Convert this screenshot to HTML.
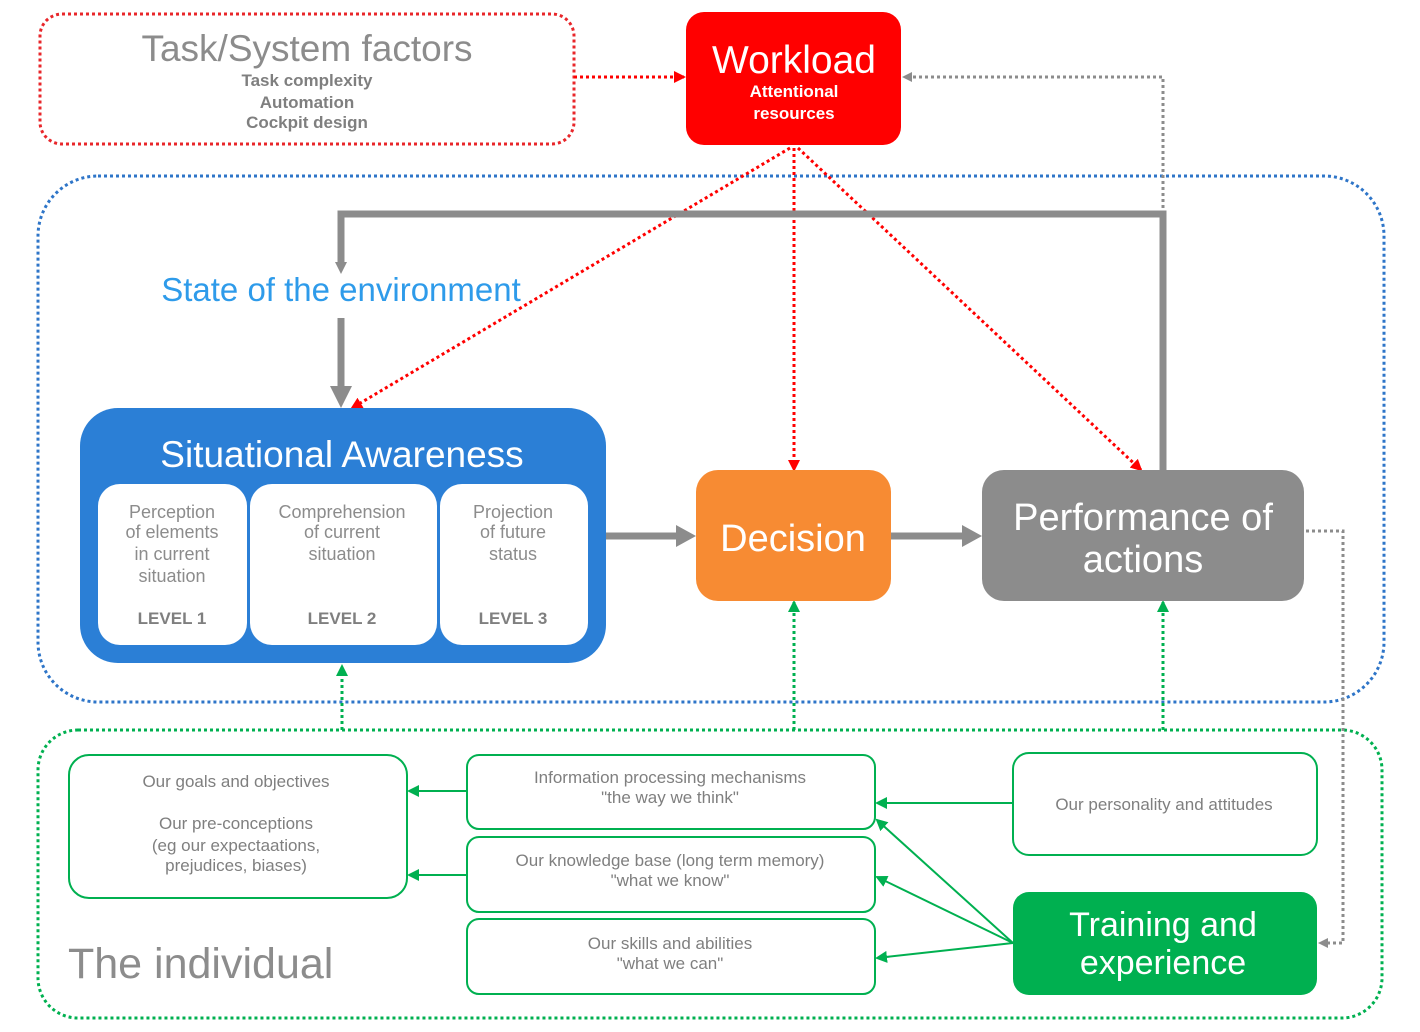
<!DOCTYPE html>
<html><head><meta charset="utf-8"><style>
html,body{margin:0;padding:0;background:#fff;}
svg{display:block;font-family:"Liberation Sans",sans-serif;}
</style></head><body>
<svg width="1420" height="1032" viewBox="0 0 1420 1032" xmlns="http://www.w3.org/2000/svg">
<defs>
<marker id="ag" markerWidth="10" markerHeight="10" refX="8" refY="5" orient="auto" markerUnits="userSpaceOnUse"><path d="M0,0 L10,5 L0,10 z" fill="#8C8C8C"/></marker>
<marker id="agb" markerWidth="22" markerHeight="22" refX="20" refY="11" orient="auto" markerUnits="userSpaceOnUse"><path d="M0,0 L22,11 L0,22 z" fill="#8C8C8C"/></marker>
<marker id="ar" markerWidth="12" markerHeight="12" refX="10" refY="6" orient="auto" markerUnits="userSpaceOnUse"><path d="M0,0 L12,6 L0,12 z" fill="#FF0000"/></marker>
<marker id="agr" markerWidth="12" markerHeight="12" refX="10" refY="6" orient="auto" markerUnits="userSpaceOnUse"><path d="M0,0 L12,6 L0,12 z" fill="#00B050"/></marker>
</defs>
<rect x="40" y="14" width="534" height="130" rx="22" fill="none" stroke="#E8262A" stroke-width="3" stroke-dasharray="3,3"/>
<rect x="38" y="176" width="1346" height="526" rx="60" fill="none" stroke="#2E75C8" stroke-width="3" stroke-dasharray="3,3"/>
<rect x="38" y="730" width="1344" height="288" rx="40" fill="none" stroke="#00B050" stroke-width="3" stroke-dasharray="3,3"/>
<text x="307" y="61" font-size="37" fill="#8C8C8C" text-anchor="middle">Task/System factors</text>
<g font-size="17" font-weight="bold" fill="#7F7F7F" text-anchor="middle">
<text x="307" y="86">Task complexity</text><text x="307" y="108">Automation</text><text x="307" y="128">Cockpit design</text></g>
<rect x="686" y="12" width="215" height="133" rx="18" fill="#FF0000"/>
<text x="794" y="73" font-size="39" fill="#fff" text-anchor="middle">Workload</text>
<text x="794" y="97" font-size="17" font-weight="bold" fill="#fff" text-anchor="middle">Attentional</text>
<text x="794" y="119" font-size="17" font-weight="bold" fill="#fff" text-anchor="middle">resources</text>
<line x1="574" y1="77" x2="684" y2="77" stroke="#FF0000" stroke-width="3" stroke-dasharray="3,3" marker-end="url(#ar)"/>
<polyline points="1163,214 1163,77 904,77" fill="none" stroke="#8C8C8C" stroke-width="3" stroke-dasharray="3,3" marker-end="url(#ag)"/>
<line x1="790" y1="148" x2="352" y2="408" stroke="#FF0000" stroke-width="3" stroke-dasharray="3,3" marker-end="url(#ar)"/>
<line x1="794" y1="148" x2="794" y2="470" stroke="#FF0000" stroke-width="3" stroke-dasharray="3,3" marker-end="url(#ar)"/>
<line x1="798" y1="148" x2="1141" y2="470" stroke="#FF0000" stroke-width="3" stroke-dasharray="3,3" marker-end="url(#ar)"/>
<polyline points="1306,531 1343,531 1343,943 1320,943" fill="none" stroke="#8C8C8C" stroke-width="3" stroke-dasharray="3,3" marker-end="url(#ag)"/>
<line x1="342" y1="730" x2="342" y2="666" stroke="#00B050" stroke-width="3" stroke-dasharray="3,3" marker-end="url(#agr)"/>
<line x1="794" y1="730" x2="794" y2="602" stroke="#00B050" stroke-width="3" stroke-dasharray="3,3" marker-end="url(#agr)"/>
<line x1="1163" y1="730" x2="1163" y2="602" stroke="#00B050" stroke-width="3" stroke-dasharray="3,3" marker-end="url(#agr)"/>
<polyline points="1163,470 1163,214 341,214 341,262" fill="none" stroke="#8C8C8C" stroke-width="7"/>
<path d="M335,262 L347,262 L341,274 z" fill="#8C8C8C"/>
<text x="341" y="301" font-size="33" fill="#2E9BEA" text-anchor="middle">State of the environment</text>
<line x1="341" y1="318" x2="341" y2="388" stroke="#8C8C8C" stroke-width="7"/>
<path d="M330,386 L352,386 L341,408 z" fill="#8C8C8C"/>
<line x1="606" y1="536" x2="678" y2="536" stroke="#8C8C8C" stroke-width="7"/>
<path d="M676,525 L696,536 L676,547 z" fill="#8C8C8C"/>
<line x1="891" y1="536" x2="964" y2="536" stroke="#8C8C8C" stroke-width="7"/>
<path d="M962,525 L982,536 L962,547 z" fill="#8C8C8C"/>
<rect x="80" y="408" width="526" height="255" rx="38" fill="#2B7FD6"/>
<text x="342" y="467" font-size="37" fill="#fff" text-anchor="middle">Situational Awareness</text>
<rect x="98" y="484" width="149" height="161" rx="22" fill="#fff"/>
<rect x="250" y="484" width="187" height="161" rx="22" fill="#fff"/>
<rect x="440" y="484" width="148" height="161" rx="22" fill="#fff"/>
<g font-size="18" fill="#8C8C8C" text-anchor="middle">
<text x="172" y="518">Perception</text><text x="172" y="538">of elements</text><text x="172" y="560">in current</text><text x="172" y="582">situation</text>
<text x="342" y="518">Comprehension</text><text x="342" y="538">of current</text><text x="342" y="560">situation</text>
<text x="513" y="518">Projection</text><text x="513" y="538">of future</text><text x="513" y="560">status</text>
</g>
<g font-size="17" font-weight="bold" fill="#7F7F7F" text-anchor="middle">
<text x="172" y="624">LEVEL 1</text><text x="342" y="624">LEVEL 2</text><text x="513" y="624">LEVEL 3</text></g>
<rect x="696" y="470" width="195" height="131" rx="22" fill="#F78B33"/>
<text x="793" y="551" font-size="38" fill="#fff" text-anchor="middle">Decision</text>
<rect x="982" y="470" width="322" height="131" rx="22" fill="#8C8C8C"/>
<text x="1143" y="530" font-size="38" fill="#fff" text-anchor="middle">Performance of</text>
<text x="1143" y="572" font-size="38" fill="#fff" text-anchor="middle">actions</text>
<g fill="none" stroke="#00B050" stroke-width="2">
<rect x="69" y="755" width="338" height="143" rx="20"/>
<rect x="467" y="755" width="408" height="74" rx="12"/>
<rect x="467" y="837" width="408" height="75" rx="12"/>
<rect x="467" y="919" width="408" height="75" rx="12"/>
<rect x="1013" y="753" width="304" height="102" rx="16"/>
</g>
<rect x="1013" y="892" width="304" height="103" rx="16" fill="#00B050"/>
<g font-size="17" fill="#7F7F7F" text-anchor="middle">
<text x="236" y="787">Our goals and objectives</text>
<text x="236" y="829">Our pre-conceptions</text>
<text x="236" y="851">(eg our expectaations,</text>
<text x="236" y="871">prejudices, biases)</text>
<text x="670" y="783">Information processing mechanisms</text>
<text x="670" y="803">"the way we think"</text>
<text x="670" y="866">Our knowledge base (long term memory)</text>
<text x="670" y="886">"what we know"</text>
<text x="670" y="949">Our skills and abilities</text>
<text x="670" y="969">"what we can"</text>
<text x="1164" y="810">Our personality and attitudes</text>
</g>
<text x="1163" y="936" font-size="34" fill="#fff" text-anchor="middle">Training and</text>
<text x="1163" y="974" font-size="34" fill="#fff" text-anchor="middle">experience</text>
<text x="68" y="978" font-size="43" fill="#8C8C8C">The individual</text>
<g stroke="#00B050" stroke-width="2" marker-end="url(#agr)">
<line x1="467" y1="791" x2="409" y2="791"/>
<line x1="467" y1="875" x2="409" y2="875"/>
<line x1="1013" y1="803" x2="877" y2="803"/>
<line x1="1013" y1="943" x2="877" y2="820"/>
<line x1="1013" y1="943" x2="877" y2="877"/>
<line x1="1013" y1="943" x2="877" y2="958"/>
</g>
</svg>
</body></html>
